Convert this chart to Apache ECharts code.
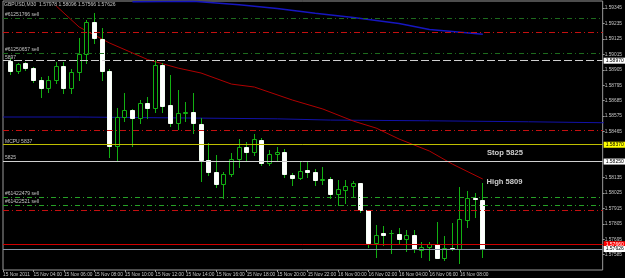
<!DOCTYPE html>
<html><head><meta charset="utf-8">
<script src="https://cdn.jsdelivr.net/npm/echarts@6/dist/echarts.min.js"></script>
<style>html,body{margin:0;padding:0;background:#000}#c{width:625px;height:278px}</style>
</head><body><div id="c"></div>
<script>
// ---- Data (GBPUSD M30, bar index 0 = 15 Nov 02:30) ----
const opens = [1.58967,1.58898,1.58951,1.58915,1.58832,1.58772,1.58832,1.58932,1.58772,1.58887,
1.59015,1.59248,1.59122,1.58898,1.58361,1.58565,1.58618,1.58558,1.58670,1.58634,
1.58939,1.58653,1.58523,1.58594,1.58605,1.58518,1.58261,1.58175,1.58089,1.58159,
1.58266,1.58356,1.58316,1.58403,1.58237,1.58304,1.58320,1.58154,1.58130,1.58189,
1.58175,1.58121,1.58125,1.58016,1.58047,1.58077,1.58094,1.57904,1.57671,1.57738,
1.57738,1.57733,1.57695,1.57725,1.57618,1.57638,1.57661,1.57563,1.57631,1.57623,
1.57833,1.57987,1.57978];
const closes = [1.58898,1.58944,1.58915,1.58832,1.58772,1.58832,1.58932,1.58772,1.58887,1.59015,
1.59248,1.59129,1.58898,1.58361,1.58565,1.58618,1.58558,1.58665,1.58634,1.58939,
1.58648,1.58523,1.58594,1.58605,1.58523,1.58261,1.58175,1.58089,1.58161,1.58266,
1.58356,1.58316,1.58408,1.58237,1.58304,1.58316,1.58161,1.58134,1.58182,1.58177,
1.58118,1.58125,1.58016,1.58054,1.58077,1.58094,1.57904,1.57666,1.57725,1.57725,
1.57739,1.57695,1.57725,1.57623,1.57638,1.57661,1.57563,1.57631,1.57623,1.57838,
1.57987,1.57980,1.57626];
const lows = [1.58874,1.58882,1.58903,1.58817,1.58712,1.58748,1.58810,1.58739,1.58739,1.58832,
1.58951,1.59094,1.58832,1.58282,1.58256,1.58541,1.58363,1.58523,1.58558,1.58605,
1.58605,1.58503,1.58480,1.58541,1.58455,1.58113,1.58154,1.58066,1.57987,1.58147,
1.58213,1.58261,1.58296,1.58225,1.58225,1.58261,1.58142,1.58082,1.58125,1.58142,
1.58082,1.58089,1.57987,1.57940,1.57956,1.57995,1.57892,1.57642,1.57571,1.57654,
1.57595,1.57671,1.57611,1.57606,1.57571,1.57547,1.57559,1.57547,1.57618,1.57528,
1.57785,1.57852,1.57566];
const highs = [1.58989,1.58953,1.58960,1.58924,1.58853,1.58860,1.58962,1.58962,1.58910,1.59129,
1.59260,1.59308,1.59201,1.58910,1.58630,1.58737,1.58625,1.58689,1.58712,1.58974,
1.58953,1.58867,1.58760,1.58677,1.58737,1.58560,1.58380,1.58296,1.58175,1.58309,
1.58408,1.58391,1.58444,1.58416,1.58332,1.58356,1.58339,1.58166,1.58254,1.58256,
1.58196,1.58213,1.58137,1.58118,1.58118,1.58111,1.58099,1.57904,1.57797,1.57790,
1.57761,1.57773,1.57761,1.57761,1.57678,1.57678,1.57816,1.57718,1.57809,1.58066,
1.58042,1.58023,1.58096];

// red moving average (bar index, price)
const maIdx = [6,9,13,18,22,25,29,32,37,41,45,48,51,55,58,62];
const maVal = [1.59360,1.59210,1.59096,1.58978,1.58917,1.58882,1.58803,1.58782,1.58689,1.58625,1.58539,1.58489,1.58411,1.58325,1.58232,1.58125];
// upper blue line
const blueIdx = [16,24,30,35,40,45,51,55,58,62];
const blueVal = [1.59391,1.59394,1.59369,1.59343,1.59308,1.59278,1.59235,1.59192,1.59178,1.59158];
// lower blue stepped line
const blue2Idx = [-1,9,35,42,55,68,78];
const blue2Val = [1.58568,1.58555,1.58546,1.58541,1.58534,1.58527,1.58527];

// horizontal levels
const lvlPrice = [1.59274,1.59172,1.59024,1.58970,1.58475,1.58370,1.58250,1.57993,1.57940,1.57904,1.57660,1.57626];
const lvlKind  = ['gd','rd','gd','wd','rd','y','w','gb','gb','rd','r','b'];
const lvlText  = ['#61251766 sell','','#61250657 sell','5897','','MCPU 5837','5825','#61422479 sell','#61422521 sell','','',''];
const lvlTag   = ['','','','1.58970','','1.58370','1.58250','','','','1.57660','1.57626'];

// notes
const noteIdx = [62.55,62.5];
const notePrice = [1.58313,1.58106];
const noteText = ['Stop 5825','High 5809'];

// axes
const tickIdx = [-1,3,7,11,15,19,23,27,31,35,39,43,47,51,55,59];
const tickLabels = ['15 Nov 2011','15 Nov 04:00','15 Nov 06:00','15 Nov 08:00','15 Nov 10:00','15 Nov 12:00','15 Nov 14:00','15 Nov 16:00','15 Nov 18:00','15 Nov 20:00','15 Nov 22:00','16 Nov 00:00','16 Nov 02:00','16 Nov 04:00','16 Nov 06:00','16 Nov 08:00'];
const yTicks = [1.59345,1.59235,1.59125,1.59015,1.58905,1.58795,1.58685,1.58575,1.58465,1.58135,1.58025,1.57915,1.57805,1.57695,1.57585,1.57475];
const header = 'GBPUSD,M30  1.57978 1.58096 1.57566 1.57626';

// ---- Chart ----
const FONT = 'Liberation Sans';
const TXT = '#c4c4c4';
const GREEN = '#12b012';
const styles = {
  gd:{color:'#1d6a1d',type:[5,3,1,3],width:1},
  gb:{color:'#26a026',type:[5,3,1,3],width:1},
  rd:{color:'#c41010',type:[6,3,1,3],width:1},
  wd:{color:'#cfcfcf',type:[8,3],width:1},
  y:{color:'#bebe00',type:'solid',width:1},
  w:{color:'#d0d0d0',type:'solid',width:1},
  r:{color:'#d00000',type:'solid',width:1},
  b:{color:'#8a96a6',type:'solid',width:1}
};
const tagStyle = {
  wd:{bg:'#ffffff',fg:'#000'}, y:{bg:'#ffff00',fg:'#000'}, w:{bg:'#ffffff',fg:'#000'},
  r:{bg:'#ff0000',fg:'#fff'}, b:{bg:'#ffffff',fg:'#000'}
};
const mlData = [];
lvlPrice.forEach((p,k)=>{
  const kind = lvlKind[k];
  mlData.push({yAxis:p, lineStyle:Object.assign({}, styles[kind]),
    label:{show:!!lvlText[k], position:'insideStartTop', formatter:lvlText[k], color:TXT,
      fontSize:5, fontFamily:FONT, distance:[2,1]}});
});
const tagData = [];
lvlPrice.forEach((p,k)=>{
  if (lvlTag[k]) {
    const ts = tagStyle[lvlKind[k]];
    tagData.push({yAxis:p, lineStyle:{color:'rgba(0,0,0,0)', width:0},
      label:{show:true, position:'end', formatter:lvlTag[k], color:ts.fg, backgroundColor:ts.bg,
        fontSize:5, fontFamily:FONT, padding:[1,3,0,2], distance:1}});
  }
});

const candleData = opens.map((o,i)=>[i,o,closes[i],lows[i],highs[i]]);

const option = {
  backgroundColor:'#000',
  animation:false,
  title:{text:header, left:4, top:2, padding:0,
    textStyle:{fontSize:5, color:TXT, fontWeight:'normal', fontFamily:FONT}},
  grid:{left:3, right:18, top:1, bottom:8, show:true, borderColor:'#9a9a9a', borderWidth:1, backgroundColor:'#000'},
  xAxis:{type:'value', min:-1, max:77.74,
    axisLine:{show:false, onZero:false}, splitLine:{show:false},
    axisTick:{show:true, customValues:tickIdx, length:2, lineStyle:{color:'#9a9a9a'}},
    axisLabel:{show:true, customValues:tickIdx, align:'left', margin:2, fontSize:4.8, color:TXT, fontFamily:FONT,
      formatter:(v)=>{const k=tickIdx.indexOf(Math.round(v)); return k>=0?tickLabels[k]:'';}}},
  yAxis:{type:'value', position:'right', min:1.57476, max:1.59396, scale:true,
    axisLine:{show:false, onZero:false}, splitLine:{show:false},
    axisTick:{show:true, customValues:yTicks, length:2, lineStyle:{color:'#9a9a9a'}},
    axisLabel:{show:true, customValues:yTicks, margin:2, fontSize:4.8, color:TXT, fontFamily:FONT,
      formatter:(v)=>v.toFixed(5)}},
  series:[
    {type:'line', name:'ma2', data:blue2Idx.map((x,i)=>[x,blue2Val[i]]), step:'end', symbol:'none',
      lineStyle:{color:'#1212a8', width:1}, z:2, clip:true,
      markLine:{silent:true, precision:6, symbol:['none','none'], animation:false, data:mlData, z:5}},
    {type:'line', name:'ma1', data:blueIdx.map((x,i)=>[x,blueVal[i]]), symbol:'none',
      lineStyle:{color:'#1616c0', width:1.5}, z:2, clip:true,
      markLine:{silent:true, precision:6, symbol:['none','none'], animation:false, data:tagData, z:7}},
    {type:'line', name:'ma', data:maIdx.map((x,i)=>[x,maVal[i]]), symbol:'none',
      lineStyle:{color:'#b00000', width:1}, z:2, clip:true},
    {type:'custom', name:'candles', data:candleData, z:3, clip:true,
      encode:{x:0, y:[1,2,3,4]},
      renderItem:(params, api)=>{
        const i=api.value(0), o=api.value(1), c=api.value(2), l=api.value(3), h=api.value(4);
        const pO=api.coord([i,o]), pC=api.coord([i,c]), pL=api.coord([i,l]), pH=api.coord([i,h]);
        const xc=Math.round(pO[0]-0.5)+0.5;
        const bull=c>=o;
        const top=Math.round(Math.min(pO[1],pC[1]))+0.5;
        const bot=Math.round(Math.max(pO[1],pC[1]))+0.5;
        return {type:'group', children:[
          {type:'line', shape:{x1:xc,y1:Math.round(pH[1]),x2:xc,y2:Math.round(pL[1])+1},
            style:{stroke:GREEN, lineWidth:1}},
          {type:'rect', shape:{x:xc-2, y:top, width:4, height:Math.max(bot-top,0)},
            style:{fill:bull?'#000':'#fff', stroke:bull?GREEN:'#f4fff4', lineWidth:1}}
        ]};
      }},
    {type:'scatter', name:'notes', data:noteIdx.map((x,i)=>[x,notePrice[i]]), symbolSize:0, z:6,
      label:{show:true, position:'right', distance:0, color:'#ffffff', fontWeight:'bold', fontSize:7.6, fontFamily:FONT,
        formatter:(p)=>noteText[p.dataIndex]}}
  ]
};
const chart = echarts.init(document.getElementById('c'));
chart.setOption(option);
</script></body></html>
